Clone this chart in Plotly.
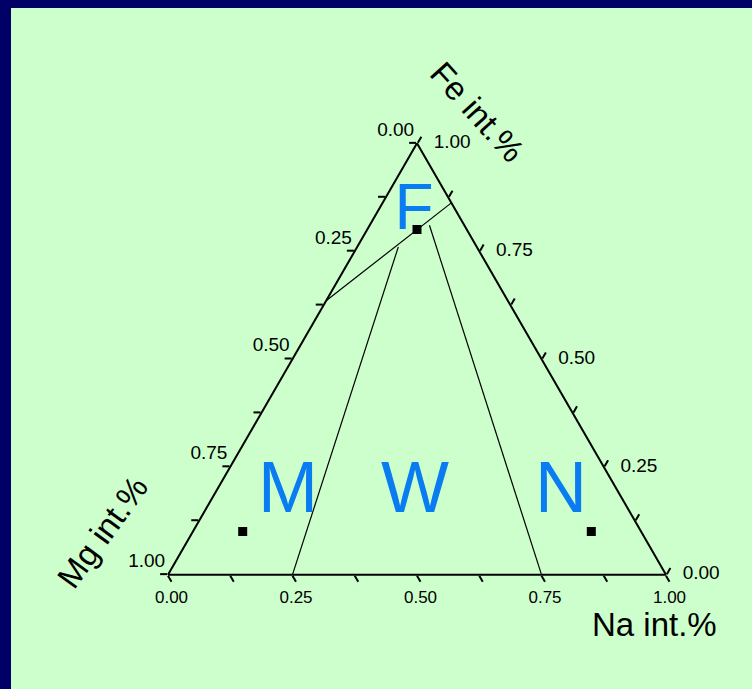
import plotly.graph_objects as go

# Representative compositions (fractions of Fe, Mg, Na intensity)
point_fe = [0.80, 0.10, 0.10]
point_mg = [0.10, 0.80, 0.10]
point_na = [0.10, 0.10, 0.80]

# Field boundary lines (end-point compositions)
upper_fe = [0.635, 0.862]
upper_mg = [0.365, 0.000]
upper_na = [0.000, 0.138]

left_fe = [0.000, 0.760]
left_mg = [0.750, 0.1575]
left_na = [0.250, 0.0825]

right_fe = [0.000, 0.810]
right_mg = [0.250, 0.070]
right_na = [0.750, 0.120]

# Field names and the compositions where they are written
field_names = ["F", "M", "W", "N"]
field_fe = [0.838, 0.188, 0.188, 0.188]
field_mg = [0.087, 0.665, 0.410, 0.117]
field_na = [0.075, 0.147, 0.402, 0.695]
field_sizes = [64, 72, 72, 72]

# Tick positions every 0.125, labelled every 0.25
tick_vals = [i / 8 for i in range(9)]
label_vals = [0.0, 0.25, 0.5, 0.75, 1.0]
label_text = [f"{v:.2f}" for v in label_vals]


def complement_labels(vals):
    return [f"{1 - v:.2f}" if i % 2 == 0 else "" for i, v in enumerate(vals)]


NAVY = "#000066"
GREEN = "#CCFFCC"
BLUE = "#0A7CF2"
FONT = "Liberation Sans, Arial, sans-serif"
W, H = 752, 689
TICK_FONT = dict(family=FONT, size=17, color="black")
SIDE_FONT = dict(family=FONT, size=19, color="black")
CLEAR = "rgba(0,0,0,0)"

fig = go.Figure()

for fe, mg, na in [(upper_fe, upper_mg, upper_na),
                   (left_fe, left_mg, left_na),
                   (right_fe, right_mg, right_na)]:
    fig.add_trace(go.Scatterternary(
        a=fe, b=mg, c=na, mode="lines",
        line=dict(color="black", width=1.2),
        hoverinfo="skip", showlegend=False,
    ))

fig.add_trace(go.Scatterternary(
    a=point_fe, b=point_mg, c=point_na, mode="markers",
    marker=dict(symbol="square", size=9, color="black"),
    showlegend=False,
))

for name, fe, mg, na, size in zip(field_names, field_fe, field_mg, field_na, field_sizes):
    fig.add_trace(go.Scatterternary(
        a=[fe], b=[mg], c=[na], mode="text", text=[name],
        textposition="middle center",
        textfont=dict(family=FONT, size=size, color=BLUE),
        hoverinfo="skip", showlegend=False, cliponaxis=False,
    ))

# Mg scale labels along the left edge (Na = 0)
fig.add_trace(go.Scatterternary(
    a=[1 - v for v in label_vals], b=label_vals, c=[0] * len(label_vals),
    mode="markers+text", text=label_text, textposition="top left",
    marker=dict(size=3, color=CLEAR), textfont=SIDE_FONT,
    hoverinfo="skip", showlegend=False, cliponaxis=False,
))

# Fe scale labels along the right edge (Mg = 0)
fig.add_trace(go.Scatterternary(
    a=label_vals, b=[0] * len(label_vals), c=[1 - v for v in label_vals],
    mode="markers+text", text=label_text, textposition="middle right",
    marker=dict(size=25, color=CLEAR), textfont=SIDE_FONT,
    hoverinfo="skip", showlegend=False, cliponaxis=False,
))

axis_common = dict(
    tickmode="array", tickvals=tick_vals, ticktext=complement_labels(tick_vals),
    ticks="outside", ticklen=7, tickwidth=1.5, tickcolor="black",
    linecolor="black", linewidth=2, showline=True, showgrid=False,
    tickfont=TICK_FONT, title=dict(text=""), min=0,
)

title_font = dict(size=33, family=FONT, color="black")

fig.update_layout(
    width=W, height=H,
    margin=dict(l=0, r=0, t=0, b=0),
    paper_bgcolor=GREEN,
    font=dict(family=FONT, color="black"),
    ternary=dict(
        sum=1,
        bgcolor=GREEN,
        domain=dict(x=[168 / W, 666 / W], y=[1 - 575 / H, 1 - 143 / H]),
        aaxis=dict(axis_common, showticklabels=False),
        baxis=axis_common,
        caxis=dict(axis_common, showticklabels=False),
    ),
    shapes=[
        dict(type="rect", xref="paper", yref="paper", x0=0, x1=11 / W, y0=0, y1=1,
             fillcolor=NAVY, line=dict(width=0), layer="below"),
        dict(type="rect", xref="paper", yref="paper", x0=0, x1=1, y0=1 - 8 / H, y1=1,
             fillcolor=NAVY, line=dict(width=0), layer="below"),
    ],
    annotations=[
        dict(text="Fe int.%", x=478 / W, y=1 - 112 / H, xref="paper", yref="paper",
             xanchor="center", yanchor="middle",
             showarrow=False, textangle=48, font=title_font),
        dict(text="Mg int.%", x=102 / W, y=1 - 532 / H, xref="paper", yref="paper",
             xanchor="center", yanchor="middle",
             showarrow=False, textangle=-54, font=title_font),
        dict(text="Na int.%", x=654 / W, y=1 - 624 / H, xref="paper", yref="paper",
             xanchor="center", yanchor="middle",
             showarrow=False, font=title_font),
    ],
)

fig.write_html("out.html")
